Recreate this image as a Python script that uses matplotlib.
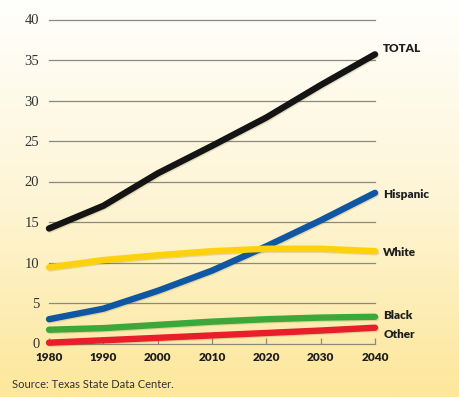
import matplotlib; matplotlib.use('Agg')
import matplotlib.pyplot as plt
import matplotlib.patheffects as pe
from matplotlib.colors import LinearSegmentedColormap
import numpy as np

# Texas population projections (millions)
years = [1980, 1990, 2000, 2010, 2020, 2030, 2040]
total = [14.2, 17.0, 21.0, 24.4, 27.9, 31.9, 35.7]
hispanic = [3.0, 4.3, 6.5, 9.0, 12.0, 15.2, 18.6]
white = [9.4, 10.3, 10.9, 11.4, 11.7, 11.7, 11.4]
black = [1.7, 1.9, 2.3, 2.7, 3.0, 3.2, 3.3]
other = [0.1, 0.4, 0.7, 1.0, 1.3, 1.6, 1.95]

series = [
    ('TOTAL', total, '#141414', 4),
    ('Hispanic', hispanic, '#0f56a3', -1),
    ('White', white, '#fdd20d', -1),
    ('Black', black, '#3ba93a', 1),
    ('Other', other, '#e81e2a', -5),
]

fig = plt.figure(figsize=(4.6, 3.97), dpi=100)

# background gradient, white at top to pale yellow at bottom
bg = fig.add_axes([0, 0, 1, 1], zorder=-10)
cmap = LinearSegmentedColormap.from_list('bg', ['#fffffd', '#fef5d6', '#fde79a'])
grad = np.linspace(0, 1, 256).reshape(-1, 1)
bg.imshow(grad, aspect='auto', cmap=cmap, extent=[0, 1, 0, 1], origin='upper')
bg.axis('off')

ax = fig.add_axes([49/460, (397-343.5)/397, 326/460, 324/397])
ax.set_facecolor('none')
ax.set_xlim(1980, 2040)
ax.set_ylim(0, 40)

for v in range(5, 45, 5):
    ax.axhline(v, color='#8c8a7c', lw=0.9, zorder=1, clip_on=False)

for s in ['top', 'right', 'left']:
    ax.spines[s].set_visible(False)
ax.spines['bottom'].set_color('#8c8a7c')
ax.spines['bottom'].set_linewidth(0.9)

ax.set_yticks(range(0, 45, 5))
ax.set_yticklabels([str(v) for v in range(0, 45, 5)], family='Liberation Serif', fontsize=10.5, color='#333333')
ax.tick_params(axis='y', length=0, pad=7)
ax.set_xticks(years)
ax.set_xticklabels([str(y) for y in years], family='Lato', fontweight='heavy', fontsize=8.5, color='#1e1e1e')
ax.tick_params(axis='x', direction='in', length=4, width=0.9, color='#8c8a7c', pad=6)

shadow = [pe.SimpleLineShadow(offset=(0.8, -0.8), alpha=0.18, shadow_color='#6b5a20'), pe.Normal()]
for name, vals, color, dy in series:
    ax.plot(years, vals, color=color, lw=4.6, solid_capstyle='round', solid_joinstyle='round',
            clip_on=False, zorder=3, path_effects=shadow)
    ax.annotate(name, (years[-1], vals[-1]), xytext=(6, dy), textcoords='offset points',
                ha='left', va='center', family='Lato', fontweight='heavy', fontsize=8.5, color='#1e1e1e',
                annotation_clip=False)

fig.text(12/460, 1 - 385/397, 'Source: Texas State Data Center.', family='Lato', fontsize=8,
         color='#333333', ha='left', va='center')

plt.savefig('out.png', dpi=100)
plt.close()
